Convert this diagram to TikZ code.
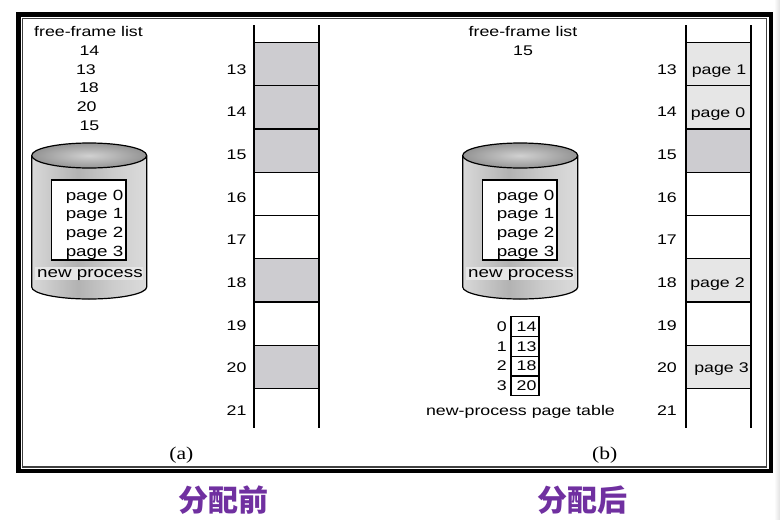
\documentclass[tikz,border=0pt]{standalone}
\usepackage{fontspec}
\setmainfont{Liberation Sans}[FakeStretch=1.27]
\newfontfamily\serifst{Liberation Serif}[FakeStretch=1.2]
\newfontfamily\cjk{Noto Sans CJK SC}
\definecolor{cellgray}{RGB}{205,204,208}
\definecolor{celllight}{RGB}{230,230,230}
\definecolor{purpleC}{RGB}{112,48,160}
\pgfdeclarehorizontalshading{cylbody}{100bp}{color(0bp)=(black!45); color(12bp)=(black!20); color(25bp)=(black!15); color(45bp)=(black!30); color(60bp)=(black!20); color(75bp)=(black!14); color(90bp)=(black!30); color(100bp)=(black!52)}
\begin{document}
\begin{tikzpicture}[x=1pt,y=-1pt,
  txt/.style={inner sep=0pt, anchor=base, font=\fontsize{14}{16}\selectfont},
  cyltxt/.style={txt, font=\fontsize{14.8}{16}\selectfont},
  lbl/.style={txt, anchor=base east},
  sub/.style={inner sep=0pt, anchor=base, font=\serifst\fontsize{18}{20}\selectfont},
  captxt/.style={inner sep=0pt, font=\cjk\bfseries\fontsize{30}{32}\selectfont, text=purpleC},
  rowline/.style={line width=1.3pt},
  sideline/.style={line width=2pt},
  cylline/.style={line width=1.2pt}]
\useasboundingbox (0,0) rectangle (780,520);
\fill[left color=white, right color=black!12] (774,0) rectangle (780,520);
% frame
\draw[line width=4.5pt] (18.5,14.5) rectangle (771,471);
\draw[line width=1.2pt, black!75] (22.7,18.6) rectangle (766.6,467);

% ---------- cylinder (both panels) ----------
\foreach \sx/\nm in {0/a,431/b}{
\begin{scope}[xshift=\sx pt]
  \fill[shading=cylbody] (31.7,155.5) -- (31.7,287) arc[start angle=180, end angle=0, x radius=57.5, y radius=12] -- (146.7,155.5) -- cycle;
  \draw[cylline] (31.7,155.5) -- (31.7,287) arc[start angle=180, end angle=0, x radius=57.5, y radius=12] -- (146.7,155.5);
  \draw[cylline, inner color=black!18, outer color=black!42] (89.2,155.5) ellipse[x radius=57.5, y radius=12.5];
  \node[draw, line width=1.5pt, fill=white, minimum width=74.3pt, minimum height=80pt, inner sep=0pt] (box\nm) at (88.85,220) {};
  \node[cyltxt] (p0\nm) at (94.5,200) {page 0};
  \node[cyltxt] (p1\nm) at (94.5,218.5) {page 1};
  \node[cyltxt] (p2\nm) at (94.5,237.3) {page 2};
  \node[cyltxt] (p3\nm) at (94.5,256) {page 3};
  \node[fill=celllight, minimum width=108pt, minimum height=13.5pt, inner sep=0pt] (np\nm) at (89,273.3) {};
  \node[cyltxt] (npt\nm) at (90,277) {new process};
\end{scope}}

% ---------- panel (a) ----------
\node[txt] (ffla) at (88.5,36) {free-frame list};
\node[txt] (fa1) at (89.5,55) {14};
\node[txt] (fa2) at (86,74) {13};
\node[txt] (fa3) at (89,92.7) {18};
\node[txt] (fa4) at (86.7,111.7) {20};
\node[txt] (fa5) at (89.5,130.7) {15};

\foreach \i in {0,1,2,5,7}
  \fill[cellgray] (254,42.3+43.3*\i) rectangle (319,42.3+43.3*\i+43.3);
\foreach \i in {0,...,8}
  \draw[rowline] (254,42.3+43.3*\i) -- (319,42.3+43.3*\i);
\draw[sideline] (254,25) -- (254,428);
\draw[sideline] (319,25) -- (319,428);
\foreach \n [count=\k from 0] in {13,...,21}
  \node[lbl] (la\n) at (246.7,74+42.7*\k) {\n};
\node[sub] (suba) at (181.3,459) {(a)};

% ---------- panel (b) ----------
\node[txt] (fflb) at (523,36) {free-frame list};
\node[txt] (fb1) at (523,55) {15};

\foreach \i in {0,1,5,7}
  \fill[celllight] (686,42.3+43.3*\i) rectangle (751,42.3+43.3*\i+43.3);
\fill[cellgray] (686,42.3+43.3*2) rectangle (751,42.3+43.3*3);
\foreach \i in {0,...,8}
  \draw[rowline] (686,42.3+43.3*\i) -- (751,42.3+43.3*\i);
\draw[sideline] (686,25) -- (686,428);
\draw[sideline] (751,25) -- (751,428);
\foreach \n [count=\k from 0] in {13,...,21}
  \node[lbl] (lb\n) at (677,74+42.7*\k) {\n};
\node[txt] (cb13) at (719,74) {page 1};
\node[txt] (cb14) at (718,117) {page 0};
\node[txt] (cb18) at (717.5,287) {page 2};
\node[txt] (cb20) at (721.5,372) {page 3};

% page table
\foreach \y in {316.7,336.7,356.7,376}
  \draw[line width=1.2pt] (511,\y) rectangle (539,\y+19.5);
\foreach \i/\v/\b in {0/14/331.7,1/13/351.7,2/18/370.7,3/20/390}{
  \node[txt] (pi\i) at (501.7,\b) {\i};
  \node[txt, anchor=base east] (pv\i) at (536.7,\b) {\v};
}
\node[txt] (ptl) at (520.5,415) {new-process page table};
\node[sub] (subb) at (604.7,459) {(b)};

% captions
\node[captxt] (capa) at (223.5,500) {分配前};
\node[captxt] (capb) at (582,500) {分配后};
\end{tikzpicture}
\end{document}
